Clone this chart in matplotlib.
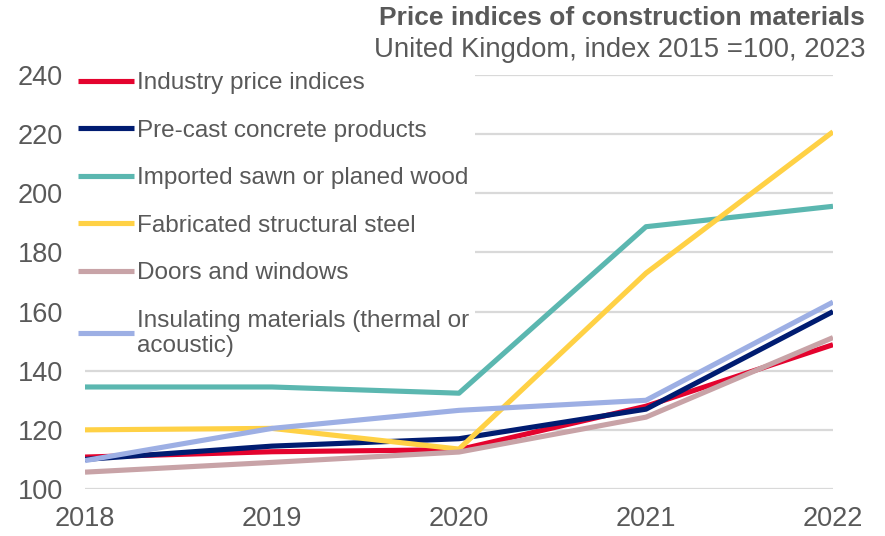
import matplotlib
matplotlib.use("Agg")
import matplotlib.pyplot as plt

plt.rcParams['font.family'] = ['Liberation Sans', 'DejaVu Sans']

years = [2018, 2019, 2020, 2021, 2022]

industry = [110.8, 112.6, 113.3, 128.0, 148.8]
precast = [110.0, 114.5, 117.0, 127.0, 160.0]
wood = [134.5, 134.5, 132.4, 188.7, 195.6]
steel = [120.0, 120.5, 113.5, 173.0, 220.8]
doors = [105.7, 109.0, 112.5, 124.3, 151.2]
insulating = [109.6, 120.5, 126.6, 130.0, 163.2]

series = [
    ("Industry price indices", industry, "#E4032E"),
    ("Pre-cast concrete products", precast, "#001C71"),
    ("Imported sawn or planed wood", wood, "#5BB7B0"),
    ("Fabricated structural steel", steel, "#FFD145"),
    ("Doors and windows", doors, "#C8A3A7"),
    ("Insulating materials (thermal or\nacoustic)", insulating, "#9DAFE4"),
]

yticks = [100, 120, 140, 160, 180, 200, 220, 240]
grey = "#595959"

fig = plt.figure(figsize=(8.85, 5.36), dpi=100)
ax = fig.add_axes([85/885, 1 - 489/536, (833 - 85)/885, (489 - 75)/536])

for label, vals, col in series:
    ax.plot(years, vals, color=col, lw=3.7, label=label, solid_capstyle='butt')

ax.set_xlim(2018, 2022)
ax.set_ylim(100, 240)
ax.set_xticks(years)
ax.set_yticks(yticks)
ax.grid(axis='y', color='#D9D9D9', lw=1.6, zorder=0)
ax.set_axisbelow(True)
for s in ax.spines.values():
    s.set_visible(False)
ax.tick_params(axis='both', length=0, labelsize=19.5, labelcolor=grey)
ax.tick_params(axis='y', pad=16)
ax.tick_params(axis='x', pad=12)

leg = fig.legend(loc='upper left', bbox_to_anchor=(72/885, 1 - 66/536),
                 frameon=True, fancybox=False, framealpha=1, facecolor='white',
                 edgecolor='none', fontsize=17.5, handlelength=2.3,
                 handletextpad=0.12, labelspacing=1.05, borderpad=0.25,
                 borderaxespad=0)
for t in leg.get_texts():
    t.set_color(grey)
    t.set_linespacing(1.2)
for h in leg.get_lines():
    h.set_linewidth(3.7)

fig.text(865/885, 1 - 18/536, "Price indices of construction materials",
         ha='right', va='center', fontsize=19, fontweight='bold', color=grey)
fig.text(865/885, 1 - 50/536, "United Kingdom, index 2015 =100, 2023",
         ha='right', va='center', fontsize=19.8, color=grey)

fig.savefig("out.png", dpi=100)
